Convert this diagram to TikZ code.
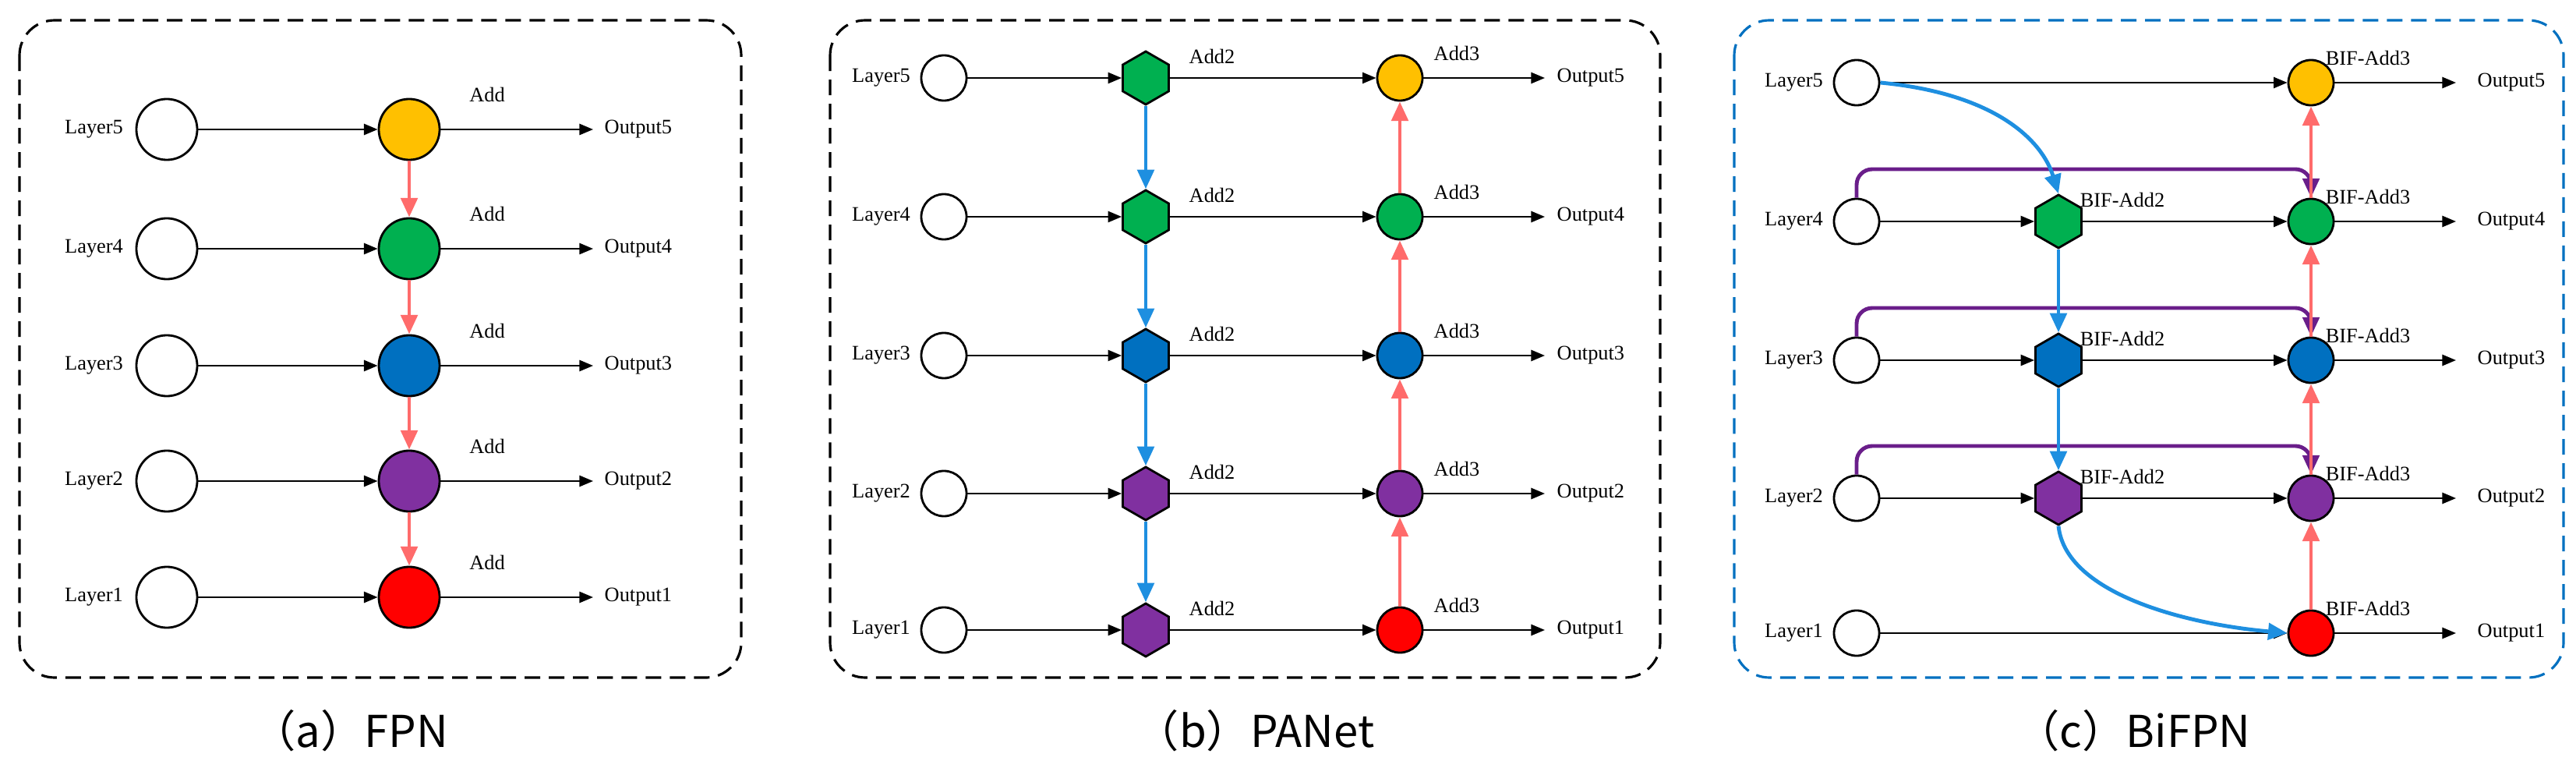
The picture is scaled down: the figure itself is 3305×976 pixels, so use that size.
\documentclass[tikz,border=0pt]{standalone}
\usepackage{fontspec}
\setmainfont{Liberation Serif}
\newfontfamily\capfont{Noto Sans CJK SC}
\usetikzlibrary{arrows.meta,positioning,shapes.geometric}
\definecolor{cyel}{HTML}{FFC000}
\definecolor{cgrn}{HTML}{00B050}
\definecolor{cblu}{HTML}{0070C0}
\definecolor{cpur}{HTML}{8030A0}
\definecolor{cred}{HTML}{FF0000}
\definecolor{csal}{HTML}{FF6B6B}
\definecolor{carr}{HTML}{1E8FE0}
\definecolor{cloop}{HTML}{6A1E8A}
\tikzset{
  inp/.style={draw, circle, fill=white, line width=0.8pt, minimum size=#1, inner sep=0},
  add/.style={draw, circle, line width=0.8pt, minimum size=0.58cm, inner sep=0},
  hex/.style={draw, regular polygon, regular polygon sides=6, shape border rotate=30, line width=0.8pt, minimum size=0.68cm, inner sep=0},
  lbl/.style={font=\fontsize{7.5}{8}\selectfont, inner sep=0},
  flow/.style={-{Triangle[length=5pt,width=4pt]}, line width=0.7pt},
  up/.style={-{Triangle[length=7pt,width=6pt]}, line width=1.4pt, csal},
  down/.style={-{Triangle[length=7pt,width=6pt]}, line width=1.4pt, carr},
  skip/.style={-{Triangle[length=7pt,width=6pt]}, line width=1.4pt, cloop, rounded corners=0.2cm},
  frame/.style={dash pattern=on 0.2cm off 0.11cm, line width=0.9pt, rounded corners=0.45cm},
  caption/.style={font=\capfont\fontsize{16}{18}\selectfont}
}
\begin{document}
\begin{tikzpicture}[x=0.01cm,y=-0.01cm]
\useasboundingbox (0,0) rectangle (3305,976);

% (a) FPN
\draw [frame] (25,26) rectangle (951,869);
\foreach \i/\y/\c in {5/166/cyel,4/319/cgrn,3/469/cblu,2/617/cpur,1/766/cred} {
  \node (aL\i) [inp=0.78cm] at (214,\y) {};
  \node [lbl, left=0.15cm of aL\i] {Layer\i};
  \node (aA\i) [add, minimum size=0.78cm, fill=\c] at (525,\y) {};
  \node [lbl] at (625,\y-45) {Add};
  \coordinate (aO\i) at (761,\y);
  \node [lbl, anchor=west] at (775,\y) {Output\i};
  \draw [flow] (aL\i) -- (aA\i);
  \draw [flow] (aA\i) -- (aO\i);
}
\foreach \i/\j in {5/4,4/3,3/2,2/1}
  \draw [up] (aA\i) -- (aA\j);
\node [caption] at (449,937) {（a）FPN};

% (b) PANet
\draw [frame] (1065,26) rectangle (2130,869);
\foreach \i/\y/\c/\h in {5/100/cyel/cgrn,4/278/cgrn/cgrn,3/456/cblu/cblu,2/633/cpur/cpur,1/808/cred/cpur} {
  \node (bL\i) [inp=0.58cm] at (1211,\y) {};
  \node [lbl, left=0.12cm of bL\i] {Layer\i};
  \node (bH\i) [hex, fill=\h] at (1470,\y) {};
  \node [lbl] at (1555,\y-28) {Add2};
  \node (bA\i) [add, fill=\c] at (1796,\y) {};
  \node [lbl] at (1869,\y-32) {Add3};
  \coordinate (bO\i) at (1982,\y);
  \node [lbl, anchor=west] at (1997,\y) {Output\i};
  \draw [flow] (bL\i) -- (bH\i);
  \draw [flow] (bH\i) -- (bA\i);
  \draw [flow] (bA\i) -- (bO\i);
}
\foreach \i/\j in {5/4,4/3,3/2,2/1} {
  \draw [down] (bH\i) -- (bH\j);
  \draw [up] (bA\j) -- (bA\i);
}
\node [caption] at (1610,937) {（b）PANet};

% (c) BiFPN
\draw [frame, cblu] (2225,26) rectangle (3289,869);
\foreach \i/\y/\c in {5/106/cyel,4/284/cgrn,3/462/cblu,2/639/cpur,1/812/cred} {
  \node (cL\i) [inp=0.58cm] at (2382,\y) {};
  \node [lbl, left=0.12cm of cL\i] {Layer\i};
  \node (cA\i) [add, fill=\c] at (2965,\y) {};
  \node [lbl] at (3038,\y-32) {BIF-Add3};
  \coordinate (cO\i) at (3151,\y);
  \node [lbl, anchor=west] at (3178,\y) {Output\i};
  \draw [flow] (cA\i) -- (cO\i);
}
\foreach \i/\y/\c in {4/284/cgrn,3/462/cblu,2/639/cpur} {
  \node (cH\i) [hex, fill=\c] at (2641,\y) {};
  \node [lbl] at (2723,\y-28) {BIF-Add2};
  \draw [flow] (cL\i) -- (cH\i);
  \draw [flow] (cH\i) -- (cA\i);
  \coordinate (cT\i) at (2965,\y-67);
  \draw [skip] (cL\i.north) |- (cT\i) -- (cA\i.north);
}
\draw [flow] (cL5) -- (cA5);
\draw [flow] (cL1) -- (cA1);
\foreach \i/\j in {4/3,3/2}
  \draw [down] (cH\i) -- (cH\j);
\foreach \i/\j in {5/4,4/3,3/2,2/1}
  \draw [up] (cA\j) -- (cA\i);
\draw [down] (cL5.east) .. controls (2560,120) and (2620,180) .. (cH4.north);
\draw [down] (cH2.south) .. controls (2650,760) and (2800,800) .. (cA1.west);
\node [caption] at (2737,937) {（c）BiFPN};
\end{tikzpicture}
\end{document}
